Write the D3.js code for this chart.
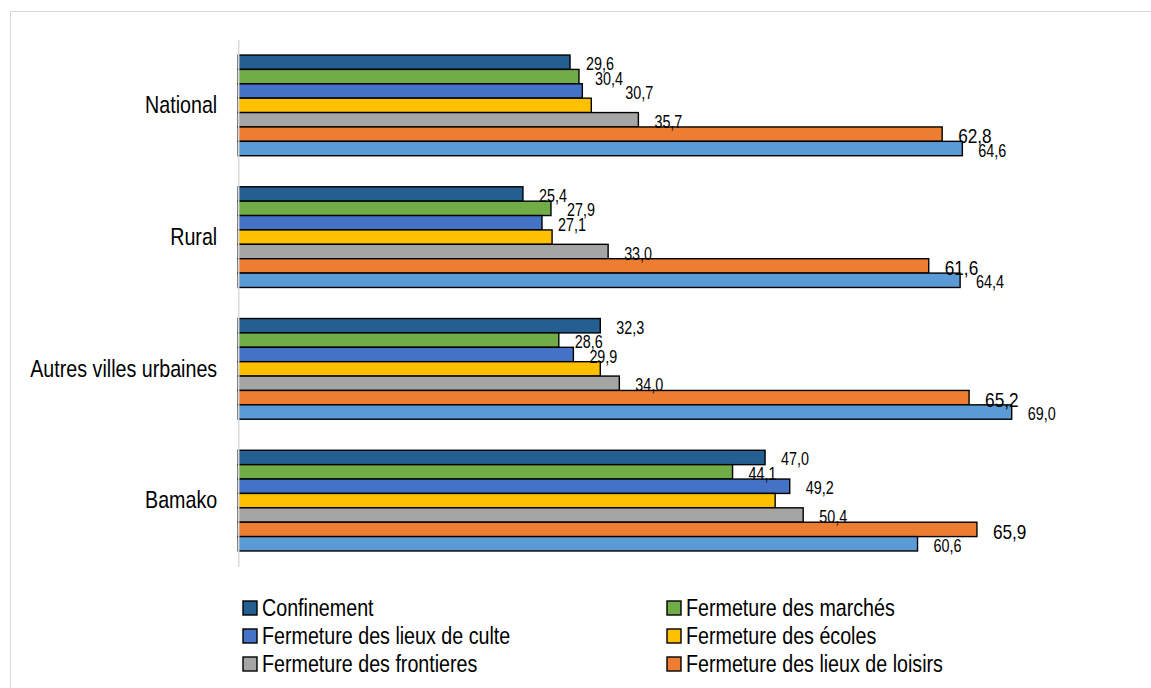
<!DOCTYPE html>
<html>
<head>
<meta charset="utf-8">
<script src="https://cdn.jsdelivr.net/npm/d3@7"></script>
<style>
  html, body { margin: 0; padding: 0; background: #fff; }
  svg { display: block; }
  text { font-family: "Liberation Sans", Arial, sans-serif; fill: #000; }
</style>
</head>
<body>
<svg id="chart" width="1151" height="688"></svg>
<script>
// ---- data ----
const categories = ["National", "Rural", "Autres villes urbaines", "Bamako"];
const seriesNames = [
  "Confinement",
  "Fermeture des marchés",
  "Fermeture des lieux de culte",
  "Fermeture des écoles",
  "Fermeture des frontieres",
  "Fermeture des lieux de loisirs",
  "Autre mesure"
];
const confinement = [29.6, 25.4, 32.3, 47.0];
const marches     = [30.4, 27.9, 28.6, 44.1];
const culte       = [30.7, 27.1, 29.9, 49.2];
const ecoles      = [31.5, 28.0, 32.3, 47.9];
const frontieres  = [35.7, 33.0, 34.0, 50.4];
const loisirs     = [62.8, 61.6, 65.2, 65.9];
const autre       = [64.6, 64.4, 69.0, 60.6];
const seriesValues = [confinement, marches, culte, ecoles, frontieres, loisirs, autre];
const seriesColors = ["#255E91", "#70AD47", "#4472C4", "#FFC000", "#A5A5A5", "#ED7D31", "#5B9BD5"];
const seriesLabelled = [true, true, true, false, true, true, true];
const legendCount = 6; // 7th legend entry is cut off in the source

// ---- chart ----
const NARROW = 0.82; // narrow font look
const svg = d3.select("#chart");

// outer frame
svg.append("rect")
  .attr("x", 10.5).attr("y", 11.5)
  .attr("width", 1200).attr("height", 800)
  .attr("fill", "none").attr("stroke", "#d9d9d9").attr("stroke-width", 1);

const x = d3.scaleLinear().domain([0, 80]).range([238.2, 238.2 + 80 * 11.21]);
const y = d3.scaleBand().domain(categories).range([39.5, 566.5])
  .paddingInner(0.2357).paddingOuter(0.2357 / 2);
const ySub = d3.scaleBand().domain(d3.range(seriesNames.length)).range([0, y.bandwidth()]);

const fmt = v => d3.format(".1f")(v).replace(".", ",");

function narrowText(parent, tx, ty, size, str) {
  return parent.append("text")
    .attr("transform", `translate(${tx},${ty}) scale(${NARROW},1)`)
    .attr("dominant-baseline", "central")
    .style("font-size", size)
    .text(str);
}

// bars
categories.forEach((cat, ci) => {
  const g = svg.append("g").attr("transform", `translate(0,${y(cat)})`);
  seriesValues.forEach((vals, si) => {
    g.append("rect")
      .attr("x", x(0))
      .attr("y", ySub(si))
      .attr("width", x(vals[ci]) - x(0))
      .attr("height", ySub.bandwidth())
      .attr("fill", seriesColors[si])
      .attr("stroke", "#000")
      .attr("stroke-width", 1.4);
  });
  seriesValues.forEach((vals, si) => {
    if (!seriesLabelled[si]) return;
    let dx = 16;
    if (cat === "National" && si === 2) dx = 43;
    const big = si === 5;
    narrowText(g, x(vals[ci]) + dx, ySub(si) + ySub.bandwidth() / 2 + 2,
      big ? "21px" : "17.5px", fmt(vals[ci]));
  });
});

// axis
const axis = svg.append("g")
  .attr("transform", `translate(${x(0)},0)`)
  .call(d3.axisLeft(y).tickSize(0).tickPadding(21));
axis.attr("font-family", null);
axis.select(".domain").attr("stroke", "#d9d9d9").attr("stroke-width", 1.5);
axis.selectAll(".tick text")
  .attr("x", -21 / NARROW)
  .attr("transform", `scale(${NARROW},1)`)
  .style("font-size", "24px")
  .attr("fill", "#000");

// legend
const legendCols = [243, 667];
const legendRows = [608, 636, 664];
for (let i = 0; i < legendCount; i++) {
  const cx = legendCols[i % 2];
  const cy = legendRows[Math.floor(i / 2)];
  svg.append("rect")
    .attr("x", cx).attr("y", cy - 7)
    .attr("width", 14).attr("height", 14)
    .attr("fill", seriesColors[i])
    .attr("stroke", "#000").attr("stroke-width", 1.4);
  narrowText(svg, cx + 19, cy, "24px", seriesNames[i]);
}
</script>
</body>
</html>
